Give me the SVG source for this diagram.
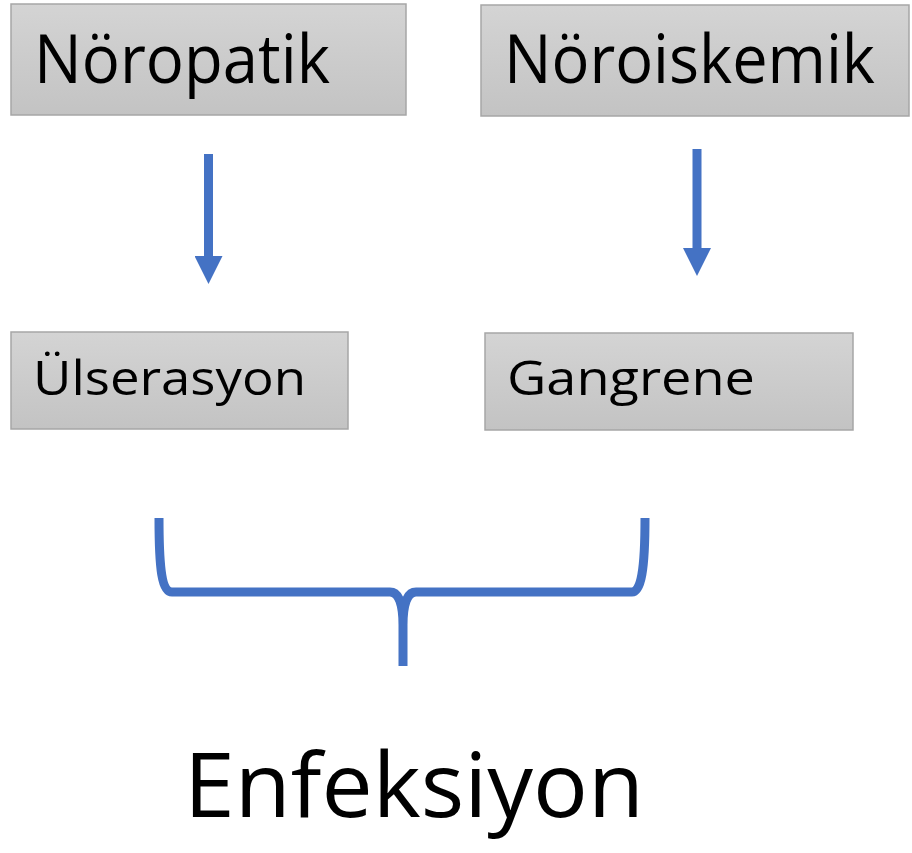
<svg xmlns="http://www.w3.org/2000/svg" width="912" height="853" viewBox="0 0 912 853">
<defs>
<linearGradient id="g" x1="0" y1="0" x2="0" y2="1">
<stop offset="0" stop-color="#d4d4d4"/>
<stop offset="1" stop-color="#c3c3c3"/>
</linearGradient>
<marker id="ah" viewBox="0 0 28 28" refX="0" refY="14" markerWidth="28" markerHeight="28" markerUnits="userSpaceOnUse" orient="auto">
<path d="M0,0 L28,14 L0,28 Z" fill="#4472C4"/>
</marker>
<style>
.box{fill:url(#g);stroke:#a6a6a6;stroke-width:1.5}
.t{font-family:"Open Sans","Noto Sans",sans-serif;fill:#000}
.c{stroke:#4472C4;stroke-width:9;fill:none}
</style>
</defs>
<rect width="912" height="853" fill="#fff"/>
<g id="noropatik">
<rect class="box" x="11" y="4" width="395" height="111"/>
<text class="t" x="34" y="83" font-size="67" textLength="296" lengthAdjust="spacingAndGlyphs">Nöropatik</text>
</g>
<g id="noroiskemik">
<rect class="box" x="481" y="5" width="428" height="111"/>
<text class="t" x="504" y="83" font-size="67" textLength="371" lengthAdjust="spacingAndGlyphs">Nöroiskemik</text>
</g>
<g id="ulserasyon">
<rect class="box" x="11" y="332" width="337" height="97"/>
<text class="t" x="33" y="395" font-size="48" textLength="273" lengthAdjust="spacingAndGlyphs">Ülserasyon</text>
</g>
<g id="gangrene">
<rect class="box" x="485" y="333" width="368" height="97"/>
<text class="t" x="507" y="395" font-size="47" textLength="248" lengthAdjust="spacingAndGlyphs">Gangrene</text>
</g>
<g id="enfeksiyon">
<text class="t" x="184" y="817" font-size="90" textLength="460" lengthAdjust="spacingAndGlyphs">Enfeksiyon</text>
</g>
<g id="connectors">
<line class="c" x1="208.5" y1="154" x2="208.5" y2="256" marker-end="url(#ah)"/>
<line class="c" x1="697" y1="149" x2="697" y2="248" marker-end="url(#ah)"/>
<path class="c" stroke-width="8" d="M159,518 C159,570 162,592 172,592 L390,592 C399,592 403,605 403,625 L403,666 M403,625 C403,605 407,592 416,592 L632,592 C641,592 645,570 645,518"/>
</g>
</svg>
